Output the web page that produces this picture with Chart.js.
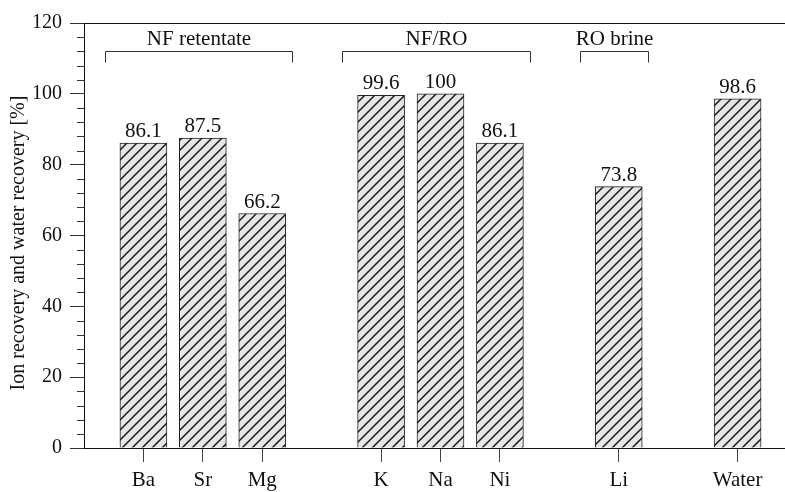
<!DOCTYPE html>
<html>
<head>
<meta charset="utf-8">
<script src="https://cdn.jsdelivr.net/npm/chart.js@4/dist/chart.umd.min.js"></script>
<style>
  html, body { margin: 0; padding: 0; background: #fff; overflow: hidden; }
  #wrap { width: 785px; height: 492px; overflow: hidden; }
</style>
</head>
<body>
<div id="wrap"><canvas id="recoveryChart" width="803" height="492"></canvas></div>
<script>
// blank categories are the gaps between process groups
const categories = ["", "Ba", "Sr", "Mg", "", "K", "Na", "Ni", "", "Li", "", "Water", ""];
const recovery = [null, 86.1, 87.5, 66.2, null, 99.6, 100, 86.1, null, 73.8, null, 98.6, null];
const yTicks = [0, 20, 40, 60, 80, 100, 120];
const groupNames = ["NF retentate", "NF/RO", "RO brine"];
const groupFirst = ["Ba", "K", "Li"];
const groupLast = ["Mg", "Ni", "Li"];

const serif = "'Liberation Serif', 'Times New Roman', serif";

function hatchPattern() {
  const c = document.createElement("canvas");
  c.width = 10;
  c.height = 10;
  const g = c.getContext("2d");
  g.fillStyle = "#e6e6e6";
  g.fillRect(0, 0, 10, 10);
  g.strokeStyle = "#1a1a1a";
  g.lineWidth = 1.5;
  g.beginPath();
  g.moveTo(0, 10); g.lineTo(10, 0);
  g.moveTo(-5, 5); g.lineTo(5, -5);
  g.moveTo(5, 15); g.lineTo(15, 5);
  g.stroke();
  return g.createPattern(c, "repeat");
}

const extras = {
  id: "extras",
  afterDraw(chart) {
    const ctx = chart.ctx;
    const x = chart.scales.x;
    const y = chart.scales.y;
    const area = chart.chartArea;
    ctx.save();

    // top frame line
    ctx.strokeStyle = "#111";
    ctx.lineWidth = 1;
    ctx.beginPath();
    ctx.moveTo(area.left, Math.round(area.top) + 0.5);
    ctx.lineTo(chart.width, Math.round(area.top) + 0.5);
    ctx.stroke();

    // minor y ticks
    ctx.strokeStyle = "#333";
    for (let v = 0; v <= 120; v += 4) {
      if (yTicks.includes(v)) continue;
      const py = Math.round(y.getPixelForValue(v)) + 0.5;
      ctx.beginPath();
      ctx.moveTo(area.left - 7, py);
      ctx.lineTo(area.left, py);
      ctx.stroke();
    }

    // value labels
    ctx.fillStyle = "#111";
    ctx.font = "21px " + serif;
    ctx.textAlign = "center";
    ctx.textBaseline = "alphabetic";
    chart.getDatasetMeta(0).data.forEach((bar, i) => {
      if (recovery[i] == null) return;
      ctx.fillText(String(recovery[i]), bar.x, bar.y - 6);
    });

    // group brackets
    const slot = x.getPixelForValue(1) - x.getPixelForValue(0);
    const ly = Math.round(y.getPixelForValue(112)) + 0.5;
    ctx.strokeStyle = "#333";
    groupNames.forEach((name, g) => {
      const x1 = Math.round(x.getPixelForValue(categories.indexOf(groupFirst[g])) - 0.65 * slot) + 0.5;
      const x2 = Math.round(x.getPixelForValue(categories.indexOf(groupLast[g])) + 0.5 * slot) + 0.5;
      ctx.beginPath();
      ctx.moveTo(x1, ly + 11);
      ctx.lineTo(x1, ly);
      ctx.lineTo(x2, ly);
      ctx.lineTo(x2, ly + 11);
      ctx.stroke();
      ctx.fillText(name, (x1 + x2) / 2, ly - 7);
    });
    ctx.restore();
  }
};

new Chart(document.getElementById("recoveryChart"), {
  type: "bar",
  data: {
    labels: categories,
    datasets: [
      {
        data: recovery,
        backgroundColor: hatchPattern(),
        borderColor: "#222",
        borderWidth: 1,
        barThickness: 47,
      },
    ],
  },
  options: {
    responsive: false,
    animation: false,
    layout: { padding: { top: 23, right: 0, left: 0, bottom: 0 } },
    plugins: {
      legend: { display: false },
      tooltip: { enabled: false },
    },
    scales: {
      x: {
        offset: false,
        grid: {
          offset: false,
          drawOnChartArea: false,
          tickLength: 14,
          color: (c) => (categories[c.index] ? "#444" : "rgba(0,0,0,0)"),
        },
        border: { color: "#111", width: 1 },
        ticks: {
          autoSkip: false,
          maxRotation: 0,
          padding: 6,
          color: "#111",
          font: { family: serif, size: 21 },
        },
        afterFit: (s) => { s.height = 44; },
      },
      y: {
        min: 0,
        max: 120,
        ticks: {
          stepSize: 20,
          padding: 8,
          color: "#111",
          font: { family: serif, size: 20 },
        },
        grid: { drawOnChartArea: false, tickLength: 14, color: "#333" },
        border: { color: "#111", width: 1 },
        title: {
          display: true,
          // trailing spaces nudge the rotated title down a little
          text: "Ion recovery and water recovery [%]\u00a0\u00a0\u00a0",
          color: "#111",
          font: { family: serif, size: 20 },
          padding: { top: 7, bottom: 0 },
        },
        afterFit: (s) => { s.width = 84; },
      },
    },
  },
  plugins: [extras],
});
</script>
</body>
</html>
